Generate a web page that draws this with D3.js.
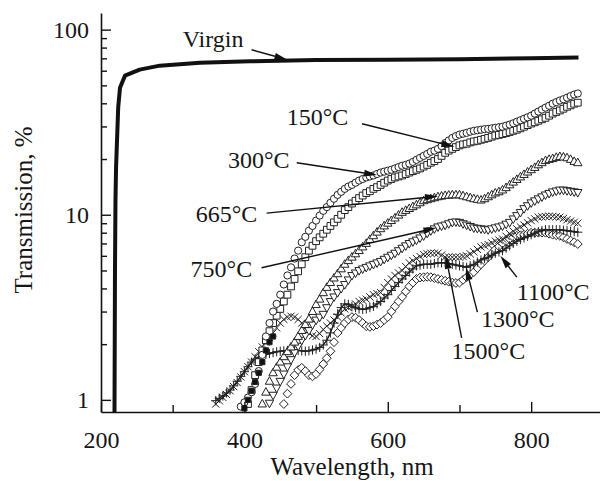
<!DOCTYPE html>
<html>
<head>
<meta charset="utf-8">
<script src="https://cdn.jsdelivr.net/npm/d3@7"></script>
<style>
  body { margin: 0; background: #fff; }
  svg text { font-family: "Liberation Serif", "Times New Roman", serif; fill: #161616; }
</style>
</head>
<body>
<svg id="chart" width="600" height="481"></svg>
<script>
// Transmission spectra of annealed samples (log scale)

const wavelengths = [360, 365, 370, 375, 380, 385, 390, 395, 400, 405, 410, 415, 420, 425, 430,
  435, 440, 445, 450, 455, 460, 465, 470, 475, 480, 485, 490, 495, 500, 505, 510, 515, 520, 525,
  530, 535, 540, 545, 550, 555, 560, 565, 570, 575, 580, 585, 590, 595, 600, 605, 610, 615, 620,
  625, 630, 635, 640, 645, 650, 655, 660, 665, 670, 675, 680, 685, 690, 695, 700, 705, 710, 715,
  720, 725, 730, 735, 740, 745, 750, 755, 760, 765, 770, 775, 780, 785, 790, 795, 800, 805, 810,
  815, 820, 825, 830, 835, 840, 845, 850, 855, 860, 865];

// every series below ends at 865 nm; its first value sits at the matching earlier wavelength
const t150 = [0.92, 0.97, 1.03, 1.10, 1.22, 1.43, 1.75, 2.2, 2.6, 3.0, 3.3, 3.7, 4.2, 4.7, 5.2,
  5.8, 6.4, 7.1, 7.6, 8.2, 8.7, 9.3, 9.9, 10.5, 11.0, 11.6, 12.2, 12.8, 13.3, 13.8, 14.2, 14.5,
  14.9, 15.3, 15.6, 15.9, 16.1, 16.3, 16.6, 16.9, 17.1, 17.3, 17.5, 17.8, 18.1, 18.4, 18.6, 18.9,
  19.3, 19.8, 20.3, 20.8, 21.3, 21.9, 22.2, 22.7, 23.5, 24.4, 25.2, 26.0, 26.6, 27.1, 27.4, 27.7,
  28.1, 28.4, 28.6, 28.8, 29.0, 29.1, 29.3, 29.5, 29.7, 29.9, 30.3, 30.7, 31.2, 31.8, 32.4, 33.0,
  33.6, 34.3, 35.2, 36.1, 37.0, 37.9, 38.8, 39.8, 40.6, 41.4, 42.1, 42.9, 43.8, 44.6, 45.2];

const t300 = [0.95, 1.13, 1.36, 1.60, 1.85, 2.1, 2.35, 2.6, 2.85, 3.1, 3.4, 3.7, 4.1, 4.5, 4.95,
  5.4, 5.9, 6.4, 6.8, 7.2, 7.55, 7.9, 8.3, 8.7, 9.1, 9.5, 10.0, 10.6, 11.0, 11.5, 11.9, 12.3,
  12.7, 13.1, 13.4, 13.8, 14.1, 14.5, 14.9, 15.3, 15.6, 15.9, 16.1, 16.3, 16.6, 16.9, 17.2, 17.5,
  17.8, 18.2, 18.6, 19.1, 19.5, 20.0, 20.8, 21.6, 22.2, 22.7, 23.2, 23.7, 24.0, 24.2, 24.6, 24.9,
  25.1, 25.4, 25.7, 26.0, 26.4, 26.8, 27.0, 27.3, 27.6, 28.0, 28.4, 28.8, 29.3, 29.9, 30.5, 31.1,
  31.6, 32.2, 32.8, 33.4, 34.3, 35.2, 35.9, 36.6, 37.4, 38.3, 39.0, 39.8, 40.3];

const t665 = [0.95, 1.10, 1.26, 1.40, 1.50, 1.60, 1.71, 1.82, 1.93, 2.05, 2.2, 2.37, 2.55, 2.73,
  3.0, 3.27, 3.5, 3.79, 4.05, 4.3, 4.55, 4.8, 5.1, 5.4, 5.65, 5.9, 6.15, 6.4, 6.7, 7.0, 7.35, 7.7,
  8.05, 8.4, 8.7, 9.0, 9.3, 9.6, 9.95, 10.3, 10.55, 10.8, 11.05, 11.3, 11.6, 11.9, 12.05, 12.2,
  12.35, 12.5, 12.6, 12.7, 12.75, 12.8, 12.8, 12.8, 12.65, 12.5, 12.35, 12.2, 12.1, 12.0, 12.2,
  12.5, 12.8, 13.1, 13.3, 13.6, 14.0, 14.5, 15.0, 15.5, 16.0, 16.5, 17.0, 17.5, 18.0, 18.6, 19.1,
  19.6, 19.9, 20.1, 20.4, 20.6, 20.5, 20.3, 19.9, 19.4, 19.1];

const t750 = [0.96, 1.06, 1.16, 1.26, 1.38, 1.51, 1.65, 1.80, 1.95, 2.1, 2.23, 2.37, 2.55, 2.7,
  2.8, 2.9, 3.15, 3.4, 3.6, 3.8, 4.0, 4.2, 4.45, 4.7, 4.85, 5.0, 5.1, 5.2, 5.3, 5.4, 5.5, 5.6,
  5.75, 5.9, 6.05, 6.2, 6.4, 6.6, 6.8, 7.0, 7.15, 7.3, 7.5, 7.7, 7.95, 8.2, 8.4, 8.6, 8.7, 8.8,
  8.95, 9.1, 9.15, 9.1, 8.95, 8.8, 8.65, 8.5, 8.45, 8.4, 8.35, 8.3, 8.4, 8.5, 8.6, 8.7, 8.9, 9.1,
  9.5, 9.9, 10.3, 10.8, 11.2, 11.6, 11.9, 12.2, 12.5, 12.8, 13.05, 13.3, 13.45, 13.6, 13.6, 13.5,
  13.4, 13.3, 13.2];

const t1100 = [0.95, 1.08, 1.22, 1.36, 1.45, 1.49, 1.43, 1.36, 1.34, 1.38, 1.46, 1.56, 1.68, 1.83,
  2.05, 2.3, 2.45, 2.6, 2.72, 2.8, 2.78, 2.7, 2.6, 2.5, 2.48, 2.5, 2.55, 2.6, 2.7, 2.8, 3.0, 3.2,
  3.4, 3.6, 3.85, 4.1, 4.3, 4.5, 4.58, 4.6, 4.62, 4.6, 4.55, 4.5, 4.45, 4.4, 4.35, 4.3, 4.28, 4.3,
  4.45, 4.6, 4.75, 4.9, 5.15, 5.4, 5.65, 5.9, 6.2, 6.5, 6.75, 7.0, 7.2, 7.4, 7.55, 7.7, 7.75, 7.8,
  7.9, 8.0, 8.0, 8.0, 8.0, 8.0, 7.9, 7.8, 7.75, 7.7, 7.55, 7.4, 7.25, 7.1, 6.95];

const t1300 = [0.99, 1.02, 1.05, 1.09, 1.13, 1.19, 1.26, 1.34, 1.42, 1.51, 1.6, 1.66, 1.7, 1.73,
  1.76, 1.78, 1.8, 1.82, 1.83, 1.84, 1.85, 1.86, 1.86, 1.85, 1.84, 1.83, 1.84, 1.86, 1.88, 1.92,
  1.98, 2.1, 2.3, 2.6, 2.9, 3.15, 3.3, 3.28, 3.2, 3.15, 3.1, 3.08, 3.1, 3.15, 3.2, 3.3, 3.4, 3.55,
  3.7, 3.9, 4.1, 4.3, 4.5, 4.7, 4.9, 5.1, 5.3, 5.35, 5.4, 5.4, 5.4, 5.45, 5.5, 5.5, 5.5, 5.45,
  5.4, 5.35, 5.3, 5.25, 5.2, 5.3, 5.4, 5.55, 5.7, 5.8, 5.9, 6.05, 6.2, 6.3, 6.4, 6.6, 6.8, 7.0,
  7.2, 7.35, 7.5, 7.65, 7.8, 7.95, 8.1, 8.2, 8.3, 8.3, 8.3, 8.3, 8.3, 8.25, 8.2, 8.15, 8.1, 8.05];

const t1500 = [0.95, 0.99, 1.03, 1.07, 1.12, 1.18, 1.24, 1.33, 1.42, 1.51, 1.60, 1.71, 1.82, 1.93,
  2.05, 2.17, 2.3, 2.45, 2.6, 2.72, 2.8, 2.83, 2.8, 2.72, 2.6, 2.45, 2.3, 2.22, 2.2, 2.28, 2.4,
  2.5, 2.6, 2.7, 2.8, 2.95, 3.1, 3.15, 3.2, 3.3, 3.4, 3.45, 3.5, 3.6, 3.7, 3.75, 3.8, 4.05, 4.3,
  4.5, 4.7, 4.85, 5.0, 5.25, 5.5, 5.65, 5.8, 5.95, 6.1, 6.15, 6.2, 6.2, 6.2, 6.05, 5.9, 5.9, 5.9,
  5.9, 5.9, 5.95, 6.0, 6.15, 6.3, 6.5, 6.7, 6.8, 6.9, 7.05, 7.2, 7.3, 7.4, 7.65, 7.9, 8.15, 8.4,
  8.6, 8.8, 9.05, 9.3, 9.5, 9.7, 9.75, 9.8, 9.8, 9.8, 9.75, 9.7, 9.55, 9.4, 9.25, 9.1, 9.0];

// short run of solid markers at the absorption edge
const solidWl = [400, 405, 410, 415, 420, 425, 430, 435, 440];
const solidT = [0.9, 1.0, 1.12, 1.25, 1.4, 1.6, 1.85, 2.05, 2.2];

const virginWl = [218.8, 219.5, 220.2, 221, 222.3, 224, 226.5, 233.4, 254, 282, 338, 408, 500,
  600, 700, 800, 866];
const virginT = [0.8, 5, 12, 18, 25, 38, 48.5, 56.4, 60.8, 63.9, 66.3, 67.4, 68.5, 68.8, 69.3,
  70, 70.8];

const xMajorTicks = [200, 400, 600, 800];
const xMinorTicks = [300, 500, 700];
const yMajorTicks = [1, 10, 100];
const yMinorTicks = [2, 3, 4, 5, 6, 7, 8, 9, 20, 30, 40, 50, 60, 70, 80, 90];

// label text, text anchor (wl, T), arrow start (wl, T), arrow tip (wl, T)
const labelText = ["Virgin", "150°C", "300°C", "665°C", "750°C", "1100°C", "1300°C", "1500°C"];
const labelAt = [[314, 80.9], [459, 30.6], [377, 17.9], [332, 9.17], [325, 4.63], [780, 3.47], [730, 2.48], [689, 1.67]];
const arrowFrom = [[410, 77.9], [564, 31.0], [473, 19.1], [431, 10.2], [424, 5.17], [780, 4.6], [725, 2.98], [703, 2.16]];
const arrowTip = [[460, 68.8], [693, 23.3], [585, 16.4], [670, 12.6], [668, 8.5], [757, 6.0], [709, 5.2], [681, 6.0]];

const svg = d3.select("#chart");
const W = 600, H = 481;
const margin = { left: 101, top: 13, right: 0, bottom: 69 };

const x = d3.scaleLinear().domain([200, 896]).range([margin.left, W - margin.right]);
const y = d3.scaleLog().domain([0.86, 123]).range([H - margin.bottom, margin.top]);

svg.append("defs").append("clipPath").attr("id", "plot")
  .append("rect")
  .attr("x", margin.left).attr("y", margin.top)
  .attr("width", W - margin.left - margin.right)
  .attr("height", H - margin.bottom - margin.top);

// marker shapes
function shape(type) {
  switch (type) {
    case "circle": { const r = 3.6; return `M${-r},0a${r},${r} 0 1,0 ${2 * r},0a${r},${r} 0 1,0 ${-2 * r},0Z`; }
    case "square": { const s = 3.4; return `M${-s},${-s}h${2 * s}v${2 * s}h${-2 * s}Z`; }
    case "solid": { const s = 2.6; return `M${-s},${-s}h${2 * s}v${2 * s}h${-2 * s}Z`; }
    case "triUp": { const s = 4.2; return `M0,${-s * 1.1}L${s},${s * 0.7}L${-s},${s * 0.7}Z`; }
    case "triDown": { const s = 4.2; return `M0,${s * 1.1}L${s},${-s * 0.7}L${-s},${-s * 0.7}Z`; }
    case "diamond": { const s = 4.4; return `M0,${-s}L${s},0L0,${s}L${-s},0Z`; }
    case "plus": { const s = 4.6; return `M${-s},0H${s}M0,${-s}V${s}`; }
    case "cross": { const s = 3.6; return `M${-s},${-s}L${s},${s}M${s},${-s}L${-s},${s}`; }
  }
}

// pair a series with the wavelength grid, aligned on the last point
function points(values) {
  const off = wavelengths.length - values.length;
  return values.map((v, i) => [wavelengths[off + i], v]);
}

const series = [
  { pts: points(t1100), marker: "diamond", line: false },
  { pts: points(t1300), marker: "plus", line: true },
  { pts: points(t1500), marker: "cross", line: false },
  { pts: points(t750), marker: "triDown", line: false },
  { pts: points(t665), marker: "triUp", line: false },
  { pts: points(t300), marker: "square", line: false },
  { pts: points(t150), marker: "circle", line: false },
  { pts: solidWl.map((w, i) => [w, solidT[i]]), marker: "solid", line: false }
];

const plot = svg.append("g").attr("clip-path", "url(#plot)");

series.forEach(s => {
  if (s.line) {
    plot.append("path")
      .attr("d", d3.line().x(d => x(d[0])).y(d => y(d[1]))(s.pts))
      .attr("fill", "none").attr("stroke", "#1a1a1a").attr("stroke-width", 1.4);
  }
  const open = s.marker !== "plus" && s.marker !== "cross" && s.marker !== "solid";
  plot.append("g").selectAll("path")
    .data(s.pts)
    .join("path")
    .attr("transform", d => `translate(${x(d[0])},${y(d[1])})`)
    .attr("d", shape(s.marker))
    .attr("fill", s.marker === "solid" ? "#111" : (open ? "#fff" : "none"))
    .attr("stroke", "#222")
    .attr("stroke-width", 1);
});

// virgin sample: thick line
plot.append("path")
  .attr("d", d3.line().x((d, i) => x(virginWl[i])).y(d => y(d))(virginT))
  .attr("fill", "none").attr("stroke", "#111").attr("stroke-width", 4)
  .attr("stroke-linejoin", "round");

// axes
const yAxis = svg.append("g").attr("transform", `translate(${margin.left},0)`);
yAxis.call(d3.axisLeft(y).tickValues(yMajorTicks).tickFormat(d3.format("d"))
  .tickSize(-10).tickSizeOuter(0).tickPadding(12));
yAxis.append("g").call(d3.axisLeft(y).tickValues(yMinorTicks).tickFormat("")
  .tickSize(-6).tickSizeOuter(0))
  .select(".domain").remove();

const xAxis = svg.append("g").attr("transform", `translate(0,${H - margin.bottom})`);
xAxis.call(d3.axisBottom(x).tickValues(xMajorTicks).tickFormat(d3.format("d"))
  .tickSize(-10).tickSizeOuter(0).tickPadding(19));
xAxis.append("g").call(d3.axisBottom(x).tickValues(xMinorTicks).tickFormat("")
  .tickSize(-7).tickSizeOuter(0))
  .select(".domain").remove();

svg.selectAll(".domain").attr("stroke", "#111").attr("stroke-width", 1.6);
svg.selectAll(".tick line").attr("stroke", "#111").attr("stroke-width", 1.4);
svg.selectAll(".tick text")
  .style("font-family", "'Liberation Serif', 'Times New Roman', serif")
  .style("font-size", "24px").attr("fill", "#161616");

svg.append("text")
  .attr("x", 352).attr("y", 475)
  .attr("text-anchor", "middle")
  .style("font-size", "25px")
  .text("Wavelength, nm");

svg.append("text")
  .attr("transform", "translate(32,210) rotate(-90)")
  .attr("text-anchor", "middle")
  .style("font-size", "25px")
  .text("Transmission, %");

// annotations with arrows
const ann = svg.append("g");
labelText.forEach((t, i) => {
  ann.append("text")
    .attr("x", x(labelAt[i][0])).attr("y", y(labelAt[i][1]))
    .style("font-size", "24px")
    .text(t);
  const x1 = x(arrowFrom[i][0]), y1 = y(arrowFrom[i][1]);
  const x2 = x(arrowTip[i][0]), y2 = y(arrowTip[i][1]);
  const a = Math.atan2(y2 - y1, x2 - x1);
  const len = 13, hw = 3.4;
  const bx = x2 - len * Math.cos(a), by = y2 - len * Math.sin(a);
  ann.append("line")
    .attr("x1", x1).attr("y1", y1).attr("x2", bx).attr("y2", by)
    .attr("stroke", "#111").attr("stroke-width", 1.4);
  ann.append("path")
    .attr("d", `M${x2},${y2}L${bx - hw * Math.sin(a)},${by + hw * Math.cos(a)}L${bx + hw * Math.sin(a)},${by - hw * Math.cos(a)}Z`)
    .attr("fill", "#111");
});
</script>
</body>
</html>
